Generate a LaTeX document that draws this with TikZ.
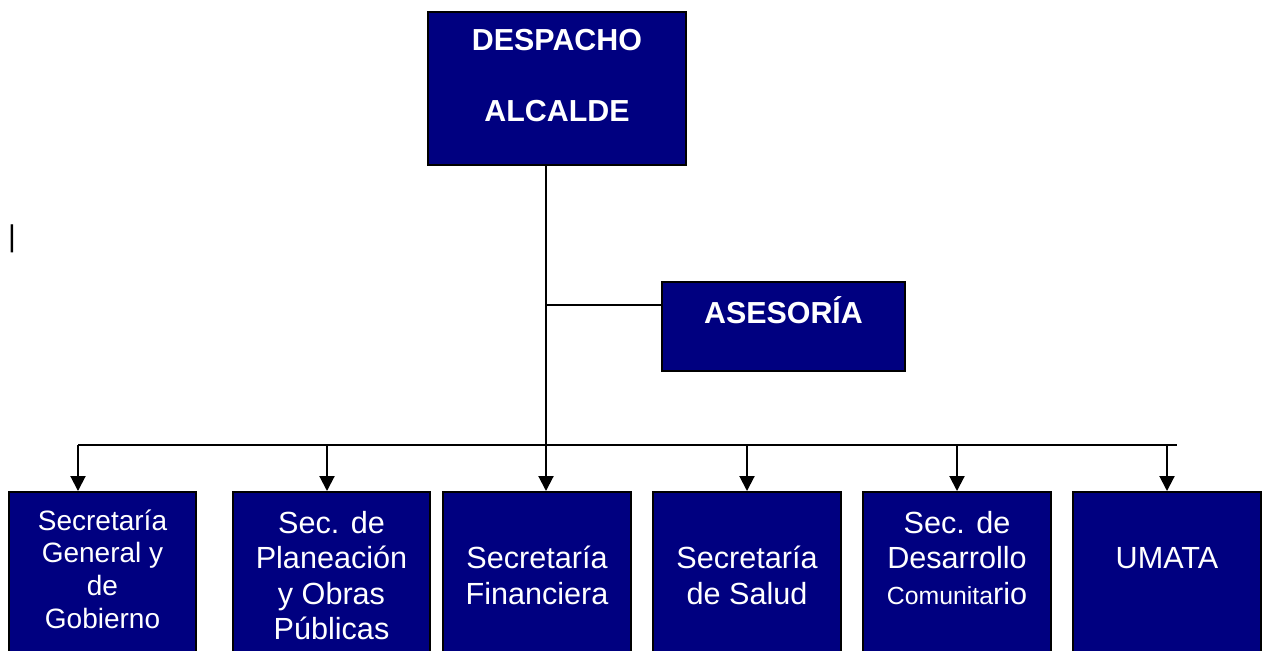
\documentclass[tikz,border=0pt]{standalone}
\usepackage{fontspec}
\setmainfont{Liberation Sans}
\usetikzlibrary{arrows.meta, positioning}
\definecolor{navyblue}{RGB}{0,0,128}

\begin{document}
\begin{tikzpicture}[
    x=0.5pt, y=-0.5pt,
    box/.style={draw=black, rectangle, fill=navyblue, line width=1pt, inner sep=0pt},
    head/.style={text=white, align=center, inner sep=0pt, font=\bfseries\fontsize{15.2}{35.5}\selectfont},
    unitname/.style={text=white, align=center, inner sep=0pt, font=\fontsize{15.3}{17.7}\selectfont},
    line/.style={line width=1pt},
    arrow/.style={line width=1pt, -{Triangle[width=7.5pt, length=7.5pt]}}
]
    \useasboundingbox (0,0) rectangle (1263,650);
    \clip (0,0) rectangle (1263,650);

    % Nodes
    \node[box, minimum width=129pt, minimum height=76.5pt] (alcalde) at (557,88.5) {};
    \node[head] (alcaldetext) [below=9pt of alcalde.north] {DESPACHO\\ALCALDE};

    \node[box, minimum width=121.5pt, minimum height=44.5pt] (asesoria) at (783.5,326.5) {};
    \node[head, anchor=base] (asesoriatext) at (783.5,323) {ASESORÍA};

    \node[box, minimum width=93.5pt, minimum height=99pt] (sgg) at (102.5,591) {};
    \node[unitname, font=\fontsize{14}{16.4}\selectfont] (sggtext) [below=9pt of sgg.north] {Secretaría\\General y\\de\\Gobierno};

    \node[box, minimum width=98.5pt, minimum height=99pt] (spop) at (331.5,591) {};
    \node[unitname] (spoptext) [below=10pt of spop.north] {Sec. de\\Planeación\\y Obras\\Públicas};

    \node[box, minimum width=94pt, minimum height=99pt] (sfin) at (537,591) {};
    \node[unitname] (sfintext) [below=27.5pt of sfin.north] {Secretaría\\Financiera};

    \node[box, minimum width=94pt, minimum height=99pt] (ssal) at (747,591) {};
    \node[unitname] (ssaltext) [below=27.5pt of ssal.north] {Secretaría\\de Salud};

    \node[box, minimum width=94pt, minimum height=99pt] (sdes) at (957,591) {};
    \node[unitname] (sdestext) [below=10pt of sdes.north] {Sec. de\\Desarrollo\\{\fontsize{12.4}{17.7}\selectfont Comunita}rio};

    \node[box, minimum width=94pt, minimum height=99pt] (umata) at (1167,591) {};
    \node[unitname] (umatatext) [below=28pt of umata.north] {UMATA};

    \node[inner sep=0pt, font=\fontsize{15}{18}\selectfont] (cursor) at (12,238.5) {|};

    % Connectors
    \coordinate (trunk) at (546,445);
    \coordinate (branch) at (546,305);
    \coordinate (busl) at (78,445);
    \coordinate (busr) at (1177,445);
    \coordinate (bpop) at (327,445);
    \coordinate (bsal) at (747,445);
    \coordinate (bdes) at (957,445);
    \coordinate (bumata) at (1167,445);

    \draw[line] (alcalde.south -| trunk) -- (trunk);
    \draw[line] (branch) -- (branch -| asesoria.west);
    \draw[line] (busl) -- (busr);

    \draw[arrow] (busl) -- (busl |- sgg.north);
    \draw[arrow] (bpop) -- (bpop |- spop.north);
    \draw[arrow] (trunk) -- (trunk |- sfin.north);
    \draw[arrow] (bsal) -- (bsal |- ssal.north);
    \draw[arrow] (bdes) -- (bdes |- sdes.north);
    \draw[arrow] (bumata) -- (bumata |- umata.north);
\end{tikzpicture}
\end{document}
